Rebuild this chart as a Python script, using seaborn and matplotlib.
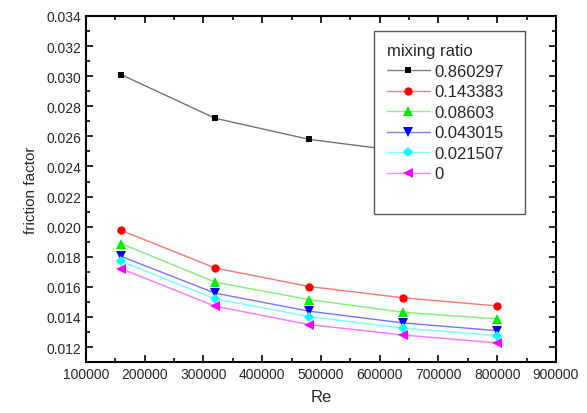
import matplotlib
matplotlib.use("Agg")
import matplotlib.pyplot as plt
import seaborn as sns
import pandas as pd
import numpy as np
from matplotlib.ticker import MultipleLocator
from matplotlib.lines import Line2D
from matplotlib.colors import to_rgba

Re = [160000, 320000, 480000, 640000, 800000]
ratios = ["0.860297", "0.143383", "0.08603", "0.043015", "0.021507", "0"]
f_0860297 = [0.0301, 0.0272, 0.0258, 0.0250, 0.0245]
f_0143383 = [0.01975, 0.01725, 0.01602, 0.01527, 0.01473]
f_008603 = [0.01887, 0.01631, 0.01515, 0.01431, 0.01387]
f_0043015 = [0.01802, 0.01558, 0.01438, 0.01360, 0.01309]
f_0021507 = [0.01769, 0.01520, 0.01402, 0.01325, 0.01276]
f_0 = [0.01720, 0.01471, 0.01349, 0.01280, 0.01227]
series = [f_0860297, f_0143383, f_008603, f_0043015, f_0021507, f_0]

colors = ["#000000", "#ff0000", "#00ee00", "#0000ff", "#00ffff", "#ff00ff"]
markers = ["s", "o", "^", "v", "D", "<"]
msizes = [5, 6, 7, 7, 5, 7]

rows = []
for r, vals in zip(ratios, series):
    for x, y in zip(Re, vals):
        rows.append({"Re": x, "f": y, "ratio": r})
df = pd.DataFrame(rows)

sns.set_theme(style="ticks")
plt.rcParams["font.family"] = ["Liberation Sans", "DejaVu Sans"]

fig = plt.figure(figsize=(5.87, 4.14), dpi=100)
ax = fig.add_axes([0.1465, 0.123, 0.8005, 0.836])

for r, c, m, ms in zip(ratios, colors, markers, msizes):
    sub = df[df["ratio"] == r]
    sns.lineplot(data=sub, x="Re", y="f", ax=ax, color=c, lw=1.0, alpha=0.55,
                 legend=False, zorder=2)
    ax.plot(sub["Re"], sub["f"], linestyle="none", marker=m, color=c,
            markersize=ms, markeredgewidth=0, zorder=3)

ax.set_xlim(100000, 900000)
ax.set_ylim(0.011, 0.034)
ax.xaxis.set_major_locator(MultipleLocator(100000))
ax.xaxis.set_minor_locator(MultipleLocator(50000))
ax.yaxis.set_minor_locator(MultipleLocator(0.001))
yt = np.arange(0.012, 0.0341, 0.002)
ax.set_yticks(yt)
ax.set_yticklabels([f"{v:.3f}" for v in yt])
ax.tick_params(which="both", direction="in", top=True, right=True,
               labelsize=10, color="black", width=1.2)
ax.tick_params(which="major", length=5)
ax.tick_params(which="minor", length=3)
for s in ax.spines.values():
    s.set_linewidth(1.5)
    s.set_color("black")
ax.set_xlabel("Re", fontsize=12, labelpad=6)
ax.set_ylabel("friction factor", fontsize=11, labelpad=6)

handles = []
for c, m, ms in zip(colors, markers, msizes):
    handles.append(Line2D([], [], color=to_rgba(c, 0.5), lw=1.0, marker=m,
                          markersize=ms, markeredgewidth=0,
                          markerfacecolor=c))
handles.append(Line2D([], [], color="none"))
labels = ratios + [" "]
leg = ax.legend(handles, labels, title="mixing ratio", loc="upper left",
                bbox_to_anchor=(0.613, 0.0, 0.321, 0.957), mode="expand",
                borderaxespad=0, fontsize=12,
                title_fontsize=12, frameon=True, fancybox=False,
                handlelength=2.6, handletextpad=0.3, labelspacing=0.33,
                borderpad=0.75, framealpha=1.0, facecolor="white")
leg._legend_box.align = "left"
leg.set_zorder(10)
leg.get_frame().set_edgecolor("#555555")
leg.get_frame().set_linewidth(1.0)

fig.savefig("out.png", dpi=100)
